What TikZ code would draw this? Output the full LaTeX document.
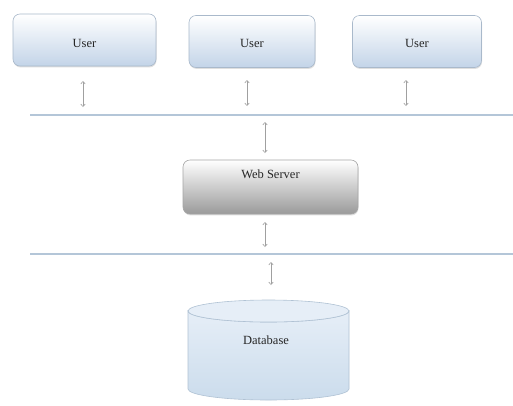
\documentclass[tikz,border=0pt]{standalone}
\usepackage{fontspec}
\setmainfont{Liberation Serif}
\usetikzlibrary{arrows.meta,shadows}
\definecolor{userblue}{HTML}{C3D4E8}
\definecolor{boxborder}{HTML}{A9B9CB}
\definecolor{barline}{HTML}{B4C6D8}
\definecolor{arrowgray}{HTML}{A0A0A0}
\definecolor{serverbottom}{HTML}{9A9A9A}
\definecolor{dbfill}{HTML}{CBDCEC}
\definecolor{dbtop}{HTML}{E6EEF7}
\definecolor{dbborder}{HTML}{B0C2D4}
\begin{document}
\begin{tikzpicture}[x=1pt,y=-1pt,
  every node/.style={font=\fontsize{12.5}{14}\selectfont, text=black!85},
  userbox/.style={draw=boxborder, line width=0.6pt, rounded corners=7pt,
    top color=white, bottom color=userblue, minimum height=52pt,
    drop shadow={shadow xshift=0.5pt, shadow yshift=-1.4pt, opacity=0.25}},
  serverbox/.style={draw=gray!70, line width=0.6pt, rounded corners=7pt,
    top color=white, bottom color=serverbottom, minimum width=175pt, minimum height=54pt,
    drop shadow={shadow xshift=0.5pt, shadow yshift=-1.4pt, opacity=0.25}},
  biarrow/.style={draw=arrowgray, line width=0.6pt,
    {Straight Barb[length=2.5pt,width=4.5pt]}-{Straight Barb[length=2.5pt,width=4.5pt]}},
  bar/.style={draw=barline, line width=1.3pt}
]
\useasboundingbox (0,0) rectangle (513,405);
\fill[white] (0,0) rectangle (513,405);

% users
\node[userbox, minimum width=143pt] (u1) at (84.5,40) {\raisebox{-7pt}[0pt][0pt]{User}};
\node[userbox, minimum width=126pt] (u2) at (252,41.5) {\raisebox{-6pt}[0pt][0pt]{User}};
\node[userbox, minimum width=129pt] (u3) at (417,41.5) {\raisebox{-6pt}[0pt][0pt]{User}};

% arrows user -> bus
\coordinate (a1t) at (83,81); \coordinate (a1b) at (83,107);
\coordinate (a2t) at (247,80); \coordinate (a2b) at (247,106);
\coordinate (a3t) at (406,80); \coordinate (a3b) at (406,106);
\draw[biarrow] (a1t) -- (a1b);
\draw[biarrow] (a2t) -- (a2b);
\draw[biarrow] (a3t) -- (a3b);

% bus 1
\coordinate (l1a) at (30,115); \coordinate (l1b) at (513,115);
\draw[bar] (l1a) -- (l1b);

% arrow bus -> server
\coordinate (a4t) at (265,122); \coordinate (a4b) at (265,153);
\draw[biarrow] (a4t) -- (a4b);

% web server
\node[serverbox] (ws) at (270.5,187) {\raisebox{9pt}[0pt][0pt]{Web Server}};

% arrow server -> bus 2
\coordinate (a5t) at (265,222); \coordinate (a5b) at (265,247);
\draw[biarrow] (a5t) -- (a5b);

% bus 2
\coordinate (l2a) at (30,254); \coordinate (l2b) at (513,254);
\draw[bar] (l2a) -- (l2b);

% arrow bus 2 -> database
\coordinate (a6t) at (271,262); \coordinate (a6b) at (271,285);
\draw[biarrow] (a6t) -- (a6b);

% database cylinder
\shade[top color=dbtop, bottom color=dbfill, draw=dbborder, line width=0.6pt]
  (188,311) -- (188,389) arc[start angle=180, end angle=360, x radius=80.5pt, y radius=11pt]
  -- (349,311) arc[start angle=0, end angle=180, x radius=80.5pt, y radius=-11pt] -- cycle;
\filldraw[fill=dbtop, draw=dbborder, line width=0.6pt] (268.5,311) ellipse[x radius=80.5pt, y radius=11pt];
\node (db) at (266,340) {Database};
\end{tikzpicture}
\end{document}
